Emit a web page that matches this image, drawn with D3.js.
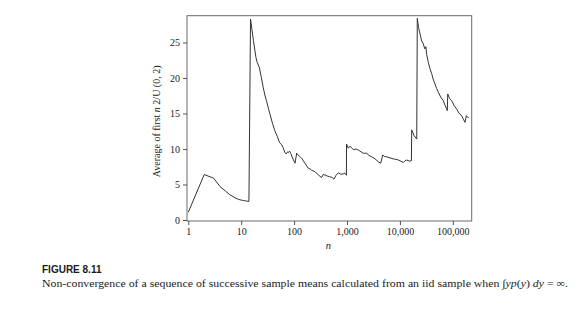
<!DOCTYPE html>
<html>
<head>
<meta charset="utf-8">
<script src="https://cdn.jsdelivr.net/npm/d3@7"></script>
<style>
  html, body { margin: 0; padding: 0; background: #fff; }
  svg { display: block; }
  .tick text { font-family: "Liberation Serif", "DejaVu Serif", serif; font-size: 10px; fill: #222; }
</style>
</head>
<body>
<svg id="chart" width="583" height="324"></svg>
<script>
// Running mean of the first n draws of 2/U(0,2), sampled along n
const sampleSize = [
  1, 2, 3, 4, 5, 6, 7, 8, 9, 10, 11, 12, 13, 14,
  15, 17, 19, 20, 22, 24, 26, 28, 30, 33, 35, 39, 43, 48, 53, 58, 62, 67, 71, 75, 78, 82, 86,
  95, 104, 112, 125, 139, 150, 160, 185, 200, 215, 240, 267, 300, 332, 355, 384, 420, 463, 520, 568, 620, 685, 760, 851, 910, 975,
  980, 1060, 1140, 1230, 1320, 1480, 1640, 2030, 2360, 2600, 2930, 3400, 3910, 4340, 4730, 5100, 5620, 6500, 7500, 8400, 9330,
  11600, 12500, 13500, 15000, 16500,
  16700, 18500, 20800,
  21300, 22500, 24000, 25800, 27700, 29500, 30900, 32100, 34400, 37000, 39900, 43000, 46100, 49500, 53200, 59000, 66100,
  71000, 76700, 78700, 80200, 87000, 95300, 106000, 118600, 132000, 147200, 158000, 170200, 180000, 188000, 200000
];
const runningMean = [
  1.1, 6.4, 5.9, 4.7, 4.1, 3.6, 3.3, 3.05, 2.9, 2.8, 2.75, 2.7, 2.65, 2.62,
  28.3, 25.3, 22.9, 22.2, 21.5, 20.1, 18.7, 17.6, 16.8, 15.6, 14.9, 13.6, 12.6, 11.8, 10.9, 10.6, 10.2, 9.5, 9.3, 9.6, 9.5, 9.7, 9.4,
  8.6, 8.0, 9.4, 9.0, 8.7, 8.3, 8.0, 7.3, 7.2, 7.0, 6.85, 6.6, 6.2, 6.0, 6.4, 6.35, 6.2, 6.1, 6.0, 5.75, 6.3, 6.65, 6.45, 6.5, 6.6, 6.3,
  10.7, 10.1, 10.4, 10.15, 9.9, 10.0, 9.85, 9.4, 9.4, 9.1, 8.9, 8.6, 8.2, 8.0, 9.15, 8.95, 8.9, 8.75, 8.6, 8.55, 8.45,
  8.1, 8.35, 8.45, 8.3, 8.35,
  12.7, 11.9, 11.4,
  28.4, 27.1, 26.2, 25.2, 24.8, 24.1, 24.4, 23.3, 22.2, 21.3, 20.6, 19.7, 19.15, 18.5, 18.0, 17.3, 16.8,
  16.2, 15.6, 15.4, 17.75, 17.1, 16.8, 16.1, 15.6, 15.0, 14.7, 14.2, 13.75, 14.7, 14.5, 14.4
];
const xTicks = [1, 10, 100, 1000, 10000, 100000];
const xTickLabels = ["1", "10", "100", "1,000", "10,000", "100,000"];
const yTicks = [0, 5, 10, 15, 20, 25];

const svg = d3.select("#chart");
const plot = { left: 187, right: 471.7, top: 15.7, bottom: 221 };

const x = d3.scaleLog()
  .domain([Math.pow(10, -0.0246), Math.pow(10, 5.357)])
  .range([plot.left, plot.right]);
const y = d3.scaleLinear()
  .domain([-0.14, 28.77])
  .range([plot.bottom, plot.top]);

// frame
svg.append("rect")
  .attr("x", plot.left).attr("y", plot.top)
  .attr("width", plot.right - plot.left).attr("height", plot.bottom - plot.top)
  .attr("fill", "none").attr("stroke", "#6a6a6a").attr("stroke-width", 1);

// axes
const xAxis = d3.axisBottom(x)
  .tickValues(xTicks)
  .tickFormat((d, i) => xTickLabels[i])
  .tickSize(4).tickPadding(3);
const gx = svg.append("g").attr("transform", `translate(0,${plot.bottom})`).call(xAxis);
gx.select(".domain").remove();
gx.selectAll(".tick line").attr("stroke", "#555");

const yAxis = d3.axisLeft(y)
  .tickValues(yTicks)
  .tickSize(4).tickPadding(3);
const gy = svg.append("g").attr("transform", `translate(${plot.left},0)`).call(yAxis);
gy.select(".domain").remove();
gy.selectAll(".tick line").attr("stroke", "#555");

// series
const points = sampleSize.map((n, i) => [n, runningMean[i]]);
svg.append("path")
  .datum(points)
  .attr("fill", "none")
  .attr("stroke", "#333")
  .attr("stroke-width", 1)
  .attr("stroke-linejoin", "round")
  .attr("d", d3.line().x(d => x(d[0])).y(d => y(d[1])));

// axis titles
svg.append("text")
  .attr("x", (plot.left + plot.right) / 2 - 1)
  .attr("y", 249)
  .attr("text-anchor", "middle")
  .attr("font-family", "Liberation Serif, serif")
  .attr("font-style", "italic")
  .attr("font-size", 10.5)
  .attr("fill", "#222")
  .text("n");

const yl = svg.append("text")
  .attr("transform", `translate(160,${(plot.top + plot.bottom) / 2 + 3}) rotate(-90)`)
  .attr("text-anchor", "middle")
  .attr("font-family", "Liberation Serif, serif")
  .attr("font-size", 10)
  .attr("fill", "#222");
yl.append("tspan").text("Average of first ");
yl.append("tspan").attr("font-style", "italic").text("n");
yl.append("tspan").text(" 2/U (0, 2)");

// caption
svg.append("text")
  .attr("x", 42).attr("y", 273)
  .attr("font-family", "Liberation Sans Narrow, Liberation Sans, sans-serif")
  .attr("font-weight", "bold")
  .attr("font-size", 10)
  .attr("fill", "#1a1a1a")
  .text("FIGURE 8.11");

const cap = svg.append("text")
  .attr("x", 42).attr("y", 287)
  .attr("font-family", "Liberation Serif, serif")
  .attr("font-size", 10.5)
  .attr("textLength", 526)
  .attr("lengthAdjust", "spacingAndGlyphs")
  .attr("fill", "#1a1a1a");
cap.append("tspan").text("Non-convergence of a sequence of successive sample means calculated from an iid sample when ∫");
cap.append("tspan").attr("font-style", "italic").text("yp");
cap.append("tspan").text("(");
cap.append("tspan").attr("font-style", "italic").text("y");
cap.append("tspan").text(") ");
cap.append("tspan").attr("font-style", "italic").text("dy");
cap.append("tspan").text(" = ∞.");
</script>
</body>
</html>
